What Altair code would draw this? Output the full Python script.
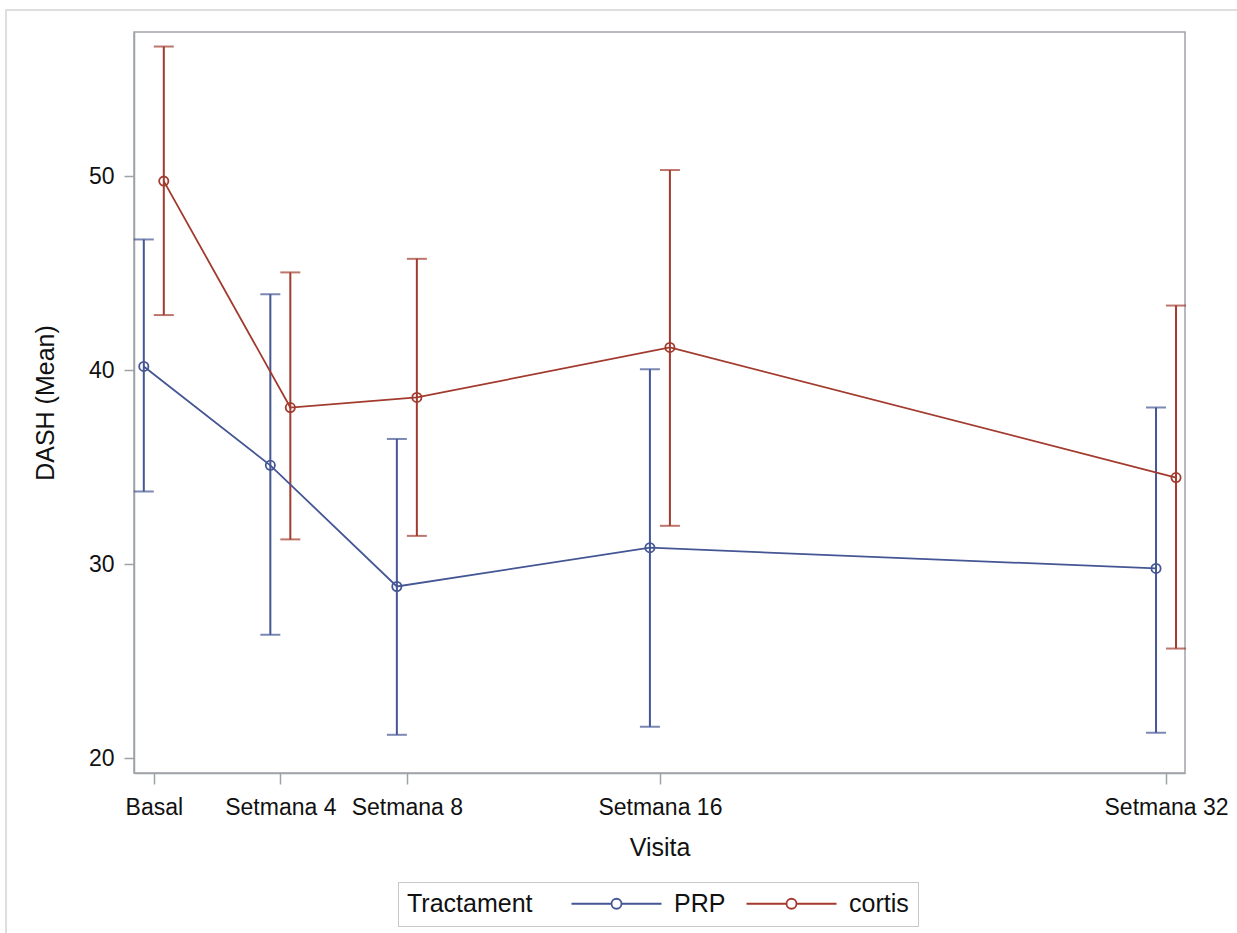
import altair as alt
import pandas as pd

# Visit schedule (weeks since baseline) and the labels shown on the axis
weeks = [0, 4, 8, 16, 32]
visit_labels = ["Basal", "Setmana 4", "Setmana 8", "Setmana 16", "Setmana 32"]

# Treatment groups and their colours
groups = ["PRP", "cortis"]
group_colors = ["#445694", "#A23A2E"]

# DASH score: mean and confidence limits per visit
prp_mean = [40.2, 35.1, 28.85, 30.85, 29.78]
prp_low = [33.75, 26.36, 21.2, 21.62, 21.31]
prp_high = [46.75, 43.92, 36.46, 40.05, 38.08]

cortis_mean = [49.76, 38.08, 38.6, 41.18, 34.47]
cortis_low = [42.85, 31.28, 31.46, 31.98, 25.65]
cortis_high = [56.7, 45.05, 45.75, 50.33, 43.34]

rows = []
for g, means, lows, highs in [
    ("PRP", prp_mean, prp_low, prp_high),
    ("cortis", cortis_mean, cortis_low, cortis_high),
]:
    for w, lab, m, lo, hi in zip(weeks, visit_labels, means, lows, highs):
        rows.append({"Tractament": g, "week": w, "Visita": lab,
                     "mean": m, "low": lo, "high": hi})
df = pd.DataFrame(rows)

# Map tick values (weeks) to visit names
label_expr = " : ".join(
    f"datum.value == {w} ? '{lab}'" for w, lab in zip(weeks, visit_labels)
) + " : ''"

FONT = "Liberation Sans"
AXIS_COLOR = "#9ea3a8"
TEXT_COLOR = "#111111"

# Circle-on-a-line legend glyph; one path unit = 10 px at symbolSize 400,
# the line runs past the symbol slot, so the legend spacings allow for it
half_len = 4.5
r = 0.5
legend_symbol = (
    f"M{-half_len},0L{-r},0M{r},0L{half_len},0"
    f"M{r},0A{r},{r},0,1,1,{-r},0A{r},{r},0,1,1,{r},0"
)
overhang = (half_len - 1) * 10

x_enc = alt.X(
    "xpos:Q",
    scale=alt.Scale(domain=[-0.626, 32.6], nice=False, zero=False),
    axis=alt.Axis(
        values=weeks, labelExpr=label_expr, title="Visita", grid=False,
        tickSize=11, tickColor=AXIS_COLOR, domainColor=AXIS_COLOR,
        labelPadding=12, titlePadding=16,
    ),
)
y_scale = alt.Scale(domain=[19.23, 57.45], nice=False, zero=False)
group_scale = alt.Scale(domain=groups, range=group_colors)

stroke_enc = alt.Stroke(
    "Tractament:N",
    scale=group_scale,
    legend=alt.Legend(
        orient="none", legendX=264, legendY=850, direction="horizontal",
        titleOrient="left", title="Tractament",
        symbolType=legend_symbol, symbolSize=400, symbolStrokeWidth=1.8,
        symbolFillColor="transparent", symbolOpacity=1,
        labelOffset=10 + overhang, columnPadding=16,
        titlePadding=36 + overhang,
        padding=9, strokeColor="#c8c8c8", fillColor="white",
        labelFont=FONT, labelFontSize=25, labelColor=TEXT_COLOR,
        titleFont=FONT, titleFontSize=25, titleFontWeight="normal",
        titleColor=TEXT_COLOR, titleBaseline="middle",
    ),
)
# Error-bar caps are filled ticks; they use a copy of the group field so
# their fill scale stays out of the stroke legend
fill_enc = alt.Fill("cap_group:N", scale=group_scale, legend=None)

base = alt.Chart(df).transform_calculate(
    xpos="datum.week + (datum.Tractament == 'PRP' ? -0.316 : 0.316)",
    cap_group="datum.Tractament",
)

bars = base.mark_rule(strokeWidth=2).encode(
    x=x_enc,
    y=alt.Y(
        "low:Q", scale=y_scale,
        axis=alt.Axis(
            values=[20, 30, 40, 50], title="DASH (Mean)", grid=False,
            tickSize=10, tickColor=AXIS_COLOR, domainColor=AXIS_COLOR,
            labelPadding=10, titlePadding=30,
        ),
    ),
    y2="high:Q",
    stroke=stroke_enc,
)

caps_low = base.mark_tick(orient="horizontal", size=20, thickness=2).encode(
    x="xpos:Q", y="low:Q", fill=fill_enc,
)
caps_high = base.mark_tick(orient="horizontal", size=20, thickness=2).encode(
    x="xpos:Q", y="high:Q", fill=fill_enc,
)

lines = base.mark_line(strokeWidth=1.8).encode(
    x="xpos:Q", y="mean:Q", stroke=stroke_enc, detail="Tractament:N",
)

points = base.mark_point(filled=False, size=85, strokeWidth=1.8, opacity=1).encode(
    x="xpos:Q", y="mean:Q", stroke=stroke_enc,
)

# Light outer frame around the whole graph
frame = alt.Chart(alt.Data(values=[{}])).mark_rect(
    fill="transparent", stroke="#d4d4d4", strokeWidth=1.5
).encode(
    x=alt.value(-128), x2=alt.value(1120),
    y=alt.value(-22), y2=alt.value(1000),
)

chart = alt.layer(bars, caps_low, caps_high, lines, points, frame).properties(
    width=1051,
    height=741,
    padding={"left": 134, "top": 32, "right": 52, "bottom": 160},
    autosize=alt.AutoSizeParams(type="none"),
    background="white",
).resolve_scale(
    fill="independent", stroke="independent"
).configure_view(
    stroke=AXIS_COLOR, strokeWidth=1.5,
).configure_axis(
    labelFont=FONT, labelFontSize=23, labelColor=TEXT_COLOR,
    titleFont=FONT, titleFontSize=25, titleFontWeight="normal",
    titleColor=TEXT_COLOR, domainWidth=1.5, tickWidth=1.5,
)

chart.save("out.html", embed_options={"renderer": "svg", "actions": False})
